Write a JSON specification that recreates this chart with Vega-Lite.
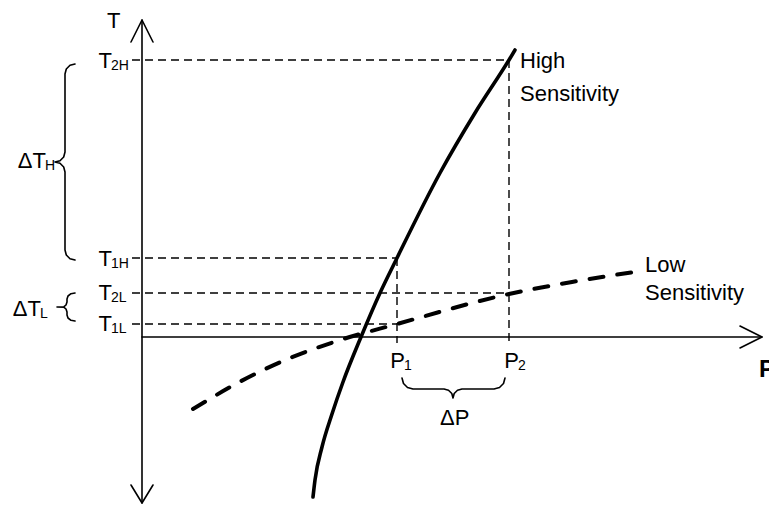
{
  "$schema": "https://vega.github.io/schema/vega-lite/v6.json",
  "width": 769,
  "height": 506,
  "autosize": "none",
  "padding": 0,
  "background": "white",
  "config": {"view": {"stroke": null}},
  "datasets": {
    "strokes": [
      {"id": "yaxis", "i": 0, "x": 0, "y": -166},
      {"id": "yaxis", "i": 1, "x": 0, "y": 317},
      {"id": "yarrowTop", "i": 0, "x": -11, "y": 295},
      {"id": "yarrowTop", "i": 1, "x": 0, "y": 317},
      {"id": "yarrowTop", "i": 2, "x": 11, "y": 295},
      {"id": "yarrowBot", "i": 0, "x": -11, "y": -148},
      {"id": "yarrowBot", "i": 1, "x": 0, "y": -166},
      {"id": "yarrowBot", "i": 2, "x": 11, "y": -148},
      {"id": "xaxis", "i": 0, "x": 0, "y": 0},
      {"id": "xaxis", "i": 1, "x": 620, "y": 0},
      {"id": "xarrow", "i": 0, "x": 598, "y": 11},
      {"id": "xarrow", "i": 1, "x": 620, "y": 0},
      {"id": "xarrow", "i": 2, "x": 598, "y": -11},
      {"id": "braceH", "i": 0, "x": -67, "y": 273},
      {"id": "braceH", "i": 1, "x": -72, "y": 271.7},
      {"id": "braceH", "i": 2, "x": -75.7, "y": 268},
      {"id": "braceH", "i": 3, "x": -77, "y": 263},
      {"id": "braceH", "i": 4, "x": -77, "y": 185},
      {"id": "braceH", "i": 5, "x": -78.3, "y": 180},
      {"id": "braceH", "i": 6, "x": -82, "y": 176.3},
      {"id": "braceH", "i": 7, "x": -87, "y": 175},
      {"id": "braceH", "i": 8, "x": -82, "y": 173.7},
      {"id": "braceH", "i": 9, "x": -78.3, "y": 170},
      {"id": "braceH", "i": 10, "x": -77, "y": 165},
      {"id": "braceH", "i": 11, "x": -77, "y": 87},
      {"id": "braceH", "i": 12, "x": -75.7, "y": 82},
      {"id": "braceH", "i": 13, "x": -72, "y": 78.3},
      {"id": "braceH", "i": 14, "x": -67, "y": 77},
      {"id": "braceL", "i": 0, "x": -67, "y": 44},
      {"id": "braceL", "i": 1, "x": -71, "y": 43.3},
      {"id": "braceL", "i": 2, "x": -74, "y": 41},
      {"id": "braceL", "i": 3, "x": -75, "y": 38},
      {"id": "braceL", "i": 4, "x": -75, "y": 35},
      {"id": "braceL", "i": 5, "x": -76, "y": 32},
      {"id": "braceL", "i": 6, "x": -78, "y": 30.3},
      {"id": "braceL", "i": 7, "x": -85, "y": 30},
      {"id": "braceL", "i": 8, "x": -78, "y": 29.7},
      {"id": "braceL", "i": 9, "x": -76, "y": 28},
      {"id": "braceL", "i": 10, "x": -75, "y": 25},
      {"id": "braceL", "i": 11, "x": -75, "y": 22},
      {"id": "braceL", "i": 12, "x": -74, "y": 19},
      {"id": "braceL", "i": 13, "x": -71, "y": 16.7},
      {"id": "braceL", "i": 14, "x": -67, "y": 16},
      {"id": "braceP", "i": 0, "x": 260, "y": -41},
      {"id": "braceP", "i": 1, "x": 261.5, "y": -46.5},
      {"id": "braceP", "i": 2, "x": 265.5, "y": -50.5},
      {"id": "braceP", "i": 3, "x": 271, "y": -52},
      {"id": "braceP", "i": 4, "x": 302, "y": -52},
      {"id": "braceP", "i": 5, "x": 306.5, "y": -53.2},
      {"id": "braceP", "i": 6, "x": 309.8, "y": -56.5},
      {"id": "braceP", "i": 7, "x": 311, "y": -61},
      {"id": "braceP", "i": 8, "x": 312.2, "y": -56.5},
      {"id": "braceP", "i": 9, "x": 315.5, "y": -53.2},
      {"id": "braceP", "i": 10, "x": 320, "y": -52},
      {"id": "braceP", "i": 11, "x": 352, "y": -52},
      {"id": "braceP", "i": 12, "x": 357.5, "y": -50.5},
      {"id": "braceP", "i": 13, "x": 361.5, "y": -46.5},
      {"id": "braceP", "i": 14, "x": 363, "y": -41}
    ],
    "guides": [
      {"x1": -10, "x2": 368, "y1": 277, "y2": 277},
      {"x1": -10, "x2": 255, "y1": 79, "y2": 79},
      {"x1": -10, "x2": 367, "y1": 44, "y2": 44},
      {"x1": -10, "x2": 255, "y1": 13, "y2": 13},
      {"x1": 255, "x2": 255, "y1": 79, "y2": -6},
      {"x1": 367, "x2": 367, "y1": 277, "y2": -6}
    ],
    "high": [
      {"p": 171, "t": -160},
      {"p": 173, "t": -143},
      {"p": 180, "t": -110},
      {"p": 190, "t": -77},
      {"p": 201, "t": -45},
      {"p": 219, "t": 0},
      {"p": 238, "t": 44},
      {"p": 255, "t": 79},
      {"p": 298, "t": 164},
      {"p": 333, "t": 224},
      {"p": 367, "t": 277},
      {"p": 373, "t": 287}
    ],
    "low": [
      {"p": 51, "t": -72},
      {"p": 105, "t": -41},
      {"p": 148, "t": -21},
      {"p": 195, "t": -4},
      {"p": 255, "t": 13},
      {"p": 367, "t": 43},
      {"p": 430, "t": 55},
      {"p": 492, "t": 65}
    ],
    "symbols": [
      {"main": "T", "sub": "2H", "x": -31, "y": 269},
      {"main": "T", "sub": "1H", "x": -31, "y": 71},
      {"main": "T", "sub": "2L", "x": -31, "y": 37},
      {"main": "T", "sub": "1L", "x": -31, "y": 6},
      {"main": "ΔT", "sub": "H", "x": -97, "y": 169},
      {"main": "ΔT", "sub": "L", "x": -102, "y": 21},
      {"main": "P", "sub": "1", "x": 262, "y": -31},
      {"main": "P", "sub": "2", "x": 376, "y": -31}
    ],
    "words": [
      {"text": "T", "x": -35, "y": 309},
      {"text": "High", "x": 378, "y": 269},
      {"text": "Sensitivity", "x": 378, "y": 236},
      {"text": "Low", "x": 503, "y": 65},
      {"text": "Sensitivity", "x": 503, "y": 37},
      {"text": "ΔP", "x": 298, "y": -88}
    ],
    "axisName": [
      {"text": "P", "x": 617, "y": -40}
    ]
  },
  "layer": [
    {
      "data": {"name": "guides"},
      "mark": {"type": "rule", "color": "black", "strokeWidth": 1.4, "strokeDash": [8, 5]},
      "encoding": {
        "x": {"field": "x1", "type": "quantitative", "scale": {"domain": [-142, 627], "nice": false, "zero": false}, "axis": null},
        "x2": {"field": "x2"},
        "y": {"field": "y1", "type": "quantitative", "scale": {"domain": [-169, 337], "nice": false, "zero": false}, "axis": null},
        "y2": {"field": "y2"}
      }
    },
    {
      "data": {"name": "strokes"},
      "mark": {"type": "line", "color": "black", "strokeWidth": 1.6, "strokeJoin": "round", "strokeCap": "round"},
      "encoding": {
        "x": {"field": "x", "type": "quantitative", "scale": {"domain": [-142, 627], "nice": false, "zero": false}, "axis": null},
        "y": {"field": "y", "type": "quantitative", "scale": {"domain": [-169, 337], "nice": false, "zero": false}, "axis": null},
        "detail": {"field": "id"},
        "order": {"field": "i", "type": "quantitative"}
      }
    },
    {
      "data": {"name": "low"},
      "mark": {"type": "line", "color": "black", "strokeWidth": 4, "strokeCap": "round", "strokeDash": [14, 14], "interpolate": "monotone"},
      "encoding": {
        "x": {"field": "p", "type": "quantitative", "scale": {"domain": [-142, 627], "nice": false, "zero": false}, "axis": null},
        "y": {"field": "t", "type": "quantitative", "scale": {"domain": [-169, 337], "nice": false, "zero": false}, "axis": null}
      }
    },
    {
      "data": {"name": "high"},
      "mark": {"type": "line", "color": "black", "strokeWidth": 3.6, "strokeCap": "round", "interpolate": "monotone"},
      "encoding": {
        "x": {"field": "p", "type": "quantitative", "scale": {"domain": [-142, 627], "nice": false, "zero": false}, "axis": null},
        "y": {"field": "t", "type": "quantitative", "scale": {"domain": [-169, 337], "nice": false, "zero": false}, "axis": null}
      }
    },
    {
      "data": {"name": "symbols"},
      "mark": {"type": "text", "font": "Liberation Sans", "fontSize": 22, "align": "right", "baseline": "alphabetic", "dx": 1, "color": "black"},
      "encoding": {
        "x": {"field": "x", "type": "quantitative", "scale": {"domain": [-142, 627], "nice": false, "zero": false}, "axis": null},
        "y": {"field": "y", "type": "quantitative", "scale": {"domain": [-169, 337], "nice": false, "zero": false}, "axis": null},
        "text": {"field": "main"}
      }
    },
    {
      "data": {"name": "symbols"},
      "mark": {"type": "text", "font": "Liberation Sans", "fontSize": 14, "align": "left", "baseline": "alphabetic", "dy": 2, "color": "black"},
      "encoding": {
        "x": {"field": "x", "type": "quantitative", "scale": {"domain": [-142, 627], "nice": false, "zero": false}, "axis": null},
        "y": {"field": "y", "type": "quantitative", "scale": {"domain": [-169, 337], "nice": false, "zero": false}, "axis": null},
        "text": {"field": "sub"}
      }
    },
    {
      "data": {"name": "words"},
      "mark": {"type": "text", "font": "Liberation Sans", "fontSize": 22, "align": "left", "baseline": "alphabetic", "color": "black"},
      "encoding": {
        "x": {"field": "x", "type": "quantitative", "scale": {"domain": [-142, 627], "nice": false, "zero": false}, "axis": null},
        "y": {"field": "y", "type": "quantitative", "scale": {"domain": [-169, 337], "nice": false, "zero": false}, "axis": null},
        "text": {"field": "text"}
      }
    },
    {
      "data": {"name": "axisName"},
      "mark": {"type": "text", "font": "Liberation Sans", "fontSize": 24, "fontWeight": "bold", "align": "left", "baseline": "alphabetic", "color": "black"},
      "encoding": {
        "x": {"field": "x", "type": "quantitative", "scale": {"domain": [-142, 627], "nice": false, "zero": false}, "axis": null},
        "y": {"field": "y", "type": "quantitative", "scale": {"domain": [-169, 337], "nice": false, "zero": false}, "axis": null},
        "text": {"field": "text"}
      }
    }
  ]
}
